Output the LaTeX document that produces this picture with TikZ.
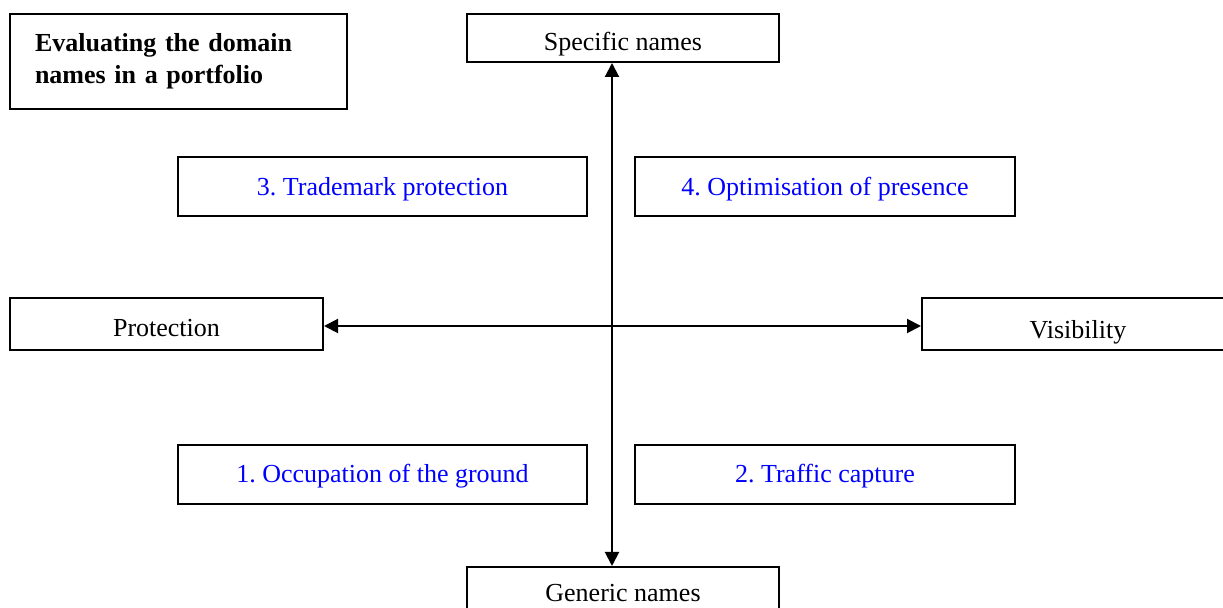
\documentclass[tikz,border=0pt]{standalone}
\usepackage{fontspec}
\setmainfont{Liberation Serif}
\usetikzlibrary{arrows.meta}
\definecolor{quadblue}{RGB}{0,0,255}
\frenchspacing

\begin{document}
\begin{tikzpicture}[x=0.5pt, y=-0.5pt, every node/.style={font=\fontsize{13}{16}\selectfont}]
\tikzstyle{box} = [rectangle, draw=black, line width=1pt, minimum height=24pt, inner sep=0pt, text centered, text depth=3pt]
\tikzstyle{qbox} = [rectangle, draw=black, line width=1pt, minimum height=29.5pt, inner sep=0pt, text centered, text depth=3pt, text=quadblue]
\tikzstyle{axis} = [{Triangle[length=7pt,width=7pt]}-{Triangle[length=7pt,width=7pt]}, line width=1pt]

\useasboundingbox (0,0) rectangle (1223,608);

\node (title) [box, minimum width=168.5pt, minimum height=47.5pt, text width=143.5pt, inner xsep=12.5pt, align=left, text depth=, font=\fontsize{13}{16}\selectfont\bfseries] at (178.5,61.5) {Evaluating the domain\\names in a portfolio};

\node (spec) [box, minimum width=156pt, text height=15.2pt] at (623,38) {Specific names};
\node (gen) [box, minimum width=156pt, text height=13.2pt] at (623,591) {Generic names};
\node (prot) [box, minimum width=156.5pt, minimum height=26pt, text height=15.2pt] at (166.5,324) {Protection};
\node (vis) [box, minimum width=156pt, minimum height=26pt, text height=17.2pt] at (1078,324) {Visibility};

\node (tm) [qbox, minimum width=204.5pt, text height=12.2pt] at (382.5,186.5) {3. Trademark protection};
\node (opt) [qbox, minimum width=190pt, text height=12.2pt] at (825,186.5) {4. Optimisation of presence};
\node (occ) [qbox, minimum width=204.5pt, text height=10.5pt] at (382.5,475) {1. Occupation of the ground};
\node (traf) [qbox, minimum width=190pt, text height=10.5pt] at (825,475) {2. Traffic capture};

\coordinate (mid) at (612,326);

\draw[axis] (spec.south -| mid) -- (gen.north -| mid);
\draw[axis] (prot.east |- mid) -- (vis.west |- mid);

\end{tikzpicture}
\end{document}
